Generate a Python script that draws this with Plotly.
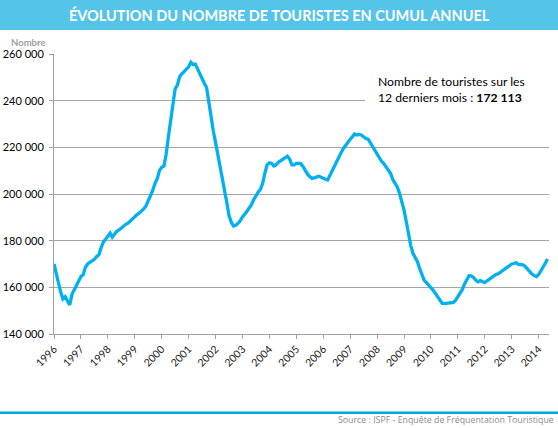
import pandas as pd
import plotly.graph_objects as go

# Monthly rolling 12-month tourist counts (thousands), Jan 1996 -> May 2014
tourists_k = [
    170.0, 166.5, 162.0, 158.0, 155.0, 156.0, 154.5, 152.5, 157.0, 159.0, 161.0, 163.0,   # 1996
    164.6, 165.5, 168.5, 170.0, 170.6, 171.3, 172.0, 173.1, 174.0, 177.0, 179.5, 180.6,   # 1997
    182.0, 183.2, 181.5, 182.8, 184.0, 184.6, 185.5, 186.2, 187.0, 187.5, 188.4, 189.5,   # 1998
    190.6, 191.2, 191.8, 192.5, 193.6, 194.8, 197.0, 199.0, 201.5, 204.5, 206.5, 210.0,   # 1999
    211.5, 212.0, 217.0, 224.5, 232.0, 240.0, 245.0, 246.7, 250.3, 251.5, 252.5, 253.1,   # 2000
    254.5, 256.4, 255.5, 255.7, 253.5, 252.0, 249.6, 247.5, 245.6, 239.0, 233.0, 227.0,   # 2001
    222.0, 217.0, 213.0, 208.0, 202.4, 196.5, 191.0, 188.0, 186.3, 186.6, 187.4, 188.5,   # 2002
    190.2, 191.3, 192.5, 194.0, 195.3, 197.5, 199.5, 200.8, 202.0, 204.5, 209.0, 212.5,   # 2003
    213.4, 213.1, 212.0, 212.5, 213.6, 214.3, 215.2, 215.7, 216.2, 215.0, 212.5, 212.5,   # 2004
    213.1, 213.1, 213.0, 211.8, 210.0, 208.5, 207.5, 206.7, 206.9, 207.1, 207.6, 207.2,   # 2005
    206.6, 206.3, 206.0, 208.0, 210.5, 212.5, 214.2, 216.0, 217.8, 219.5, 221.0, 222.5,   # 2006
    223.5, 224.6, 225.7, 225.3, 225.5, 225.3, 224.4, 223.8, 223.5, 222.0, 220.5, 219.0,   # 2007
    217.0, 215.3, 214.0, 213.0, 211.8, 210.0, 208.9, 206.2, 204.5, 203.0, 200.2, 197.0,   # 2008
    193.0, 188.0, 182.5, 178.0, 174.6, 172.5, 171.0, 168.0, 165.5, 163.0, 162.0, 161.0,   # 2009
    160.0, 158.7, 157.4, 156.0, 154.5, 153.2, 153.0, 153.1, 153.0, 153.2, 153.5, 154.5,   # 2010
    156.0, 157.5, 159.0, 161.5, 163.2, 165.0, 164.9, 164.2, 163.0, 162.4, 162.9, 162.5,   # 2011
    162.0, 162.8, 163.5, 164.3, 165.0, 165.5, 165.8, 166.5, 167.3, 168.1, 168.8, 169.3,   # 2012
    170.0, 170.2, 170.6, 169.8, 169.6, 169.6, 169.0, 167.8, 166.6, 165.7, 165.0, 164.6,   # 2013
    165.5, 167.0, 168.3, 170.3, 172.113,                                                  # 2014
]
start_month = "1996-01-01"
year_labels = [str(y) for y in range(1996, 2015)]
y_ticks = [140000, 160000, 180000, 200000, 220000, 240000, 260000]

months = pd.date_range(start_month, periods=len(tourists_k), freq="MS")
tourists = [v * 1000 for v in tourists_k]

W, H = 558, 428
ML, MR, MT, MB = 54, 9, 54, 94
PW, PH = W - ML - MR, H - MT - MB


def px_x(x):
    return (x - ML) / PW


def px_y(y):
    return 1 - (y - MT) / PH


FONT = "Lato"
BLUE = "#00B0F0"

fig = go.Figure()
fig.add_trace(go.Scatter(
    x=months, y=tourists, mode="lines",
    line=dict(color=BLUE, width=3.3),
    hoverinfo="skip", showlegend=False,
))

shapes = [
    # title banner
    dict(type="rect", xref="paper", yref="paper",
         x0=px_x(0), x1=px_x(W), y0=px_y(30), y1=px_y(0),
         fillcolor="#55C4E9", line=dict(width=0), layer="above"),
    # white box behind annotation
    dict(type="rect", xref="paper", yref="paper",
         x0=px_x(365), x1=px_x(549), y0=px_y(110), y1=px_y(66),
         fillcolor="white", line=dict(width=0), layer="above"),
    # bottom rule
    dict(type="line", xref="paper", yref="paper",
         x0=px_x(0), x1=px_x(W), y0=px_y(412.7), y1=px_y(412.7),
         line=dict(color="#00A8E1", width=2.5), layer="above"),
]

annotations = [
    dict(text="<b>ÉVOLUTION DU NOMBRE DE TOURISTES EN CUMUL ANNUEL</b>",
         xref="paper", yref="paper", x=px_x(279), y=px_y(15),
         xanchor="center", yanchor="middle", showarrow=False,
         font=dict(family=FONT, size=14.5, color="white")),
    dict(text="<b>Nombre</b>", xref="paper", yref="paper",
         x=px_x(28), y=px_y(43), xanchor="center", yanchor="middle",
         showarrow=False, font=dict(family=FONT, size=9.5, color="#A0A0A0")),
    dict(text="Nombre de touristes sur les<br>12 derniers mois : <b>172 113</b>",
         xref="paper", yref="paper", x=px_x(376), y=px_y(89),
         xanchor="left", yanchor="middle", align="left", showarrow=False,
         font=dict(family=FONT, size=12.2, color="black")),
    dict(text="Source : ISPF - Enquête de Fréquentation Touristique",
         xref="paper", yref="paper", x=px_x(556), y=px_y(419.5),
         xanchor="right", yanchor="middle", showarrow=False,
         font=dict(family="Open Sans", size=8.8, color="#8C8C8C")),
]

fig.update_layout(
    width=W, height=H,
    margin=dict(l=ML, r=MR, t=MT, b=MB, pad=0, autoexpand=False),
    paper_bgcolor="white", plot_bgcolor="white",
    separators=", ",
    shapes=shapes, annotations=annotations,
    font=dict(family=FONT, color="black"),
)

fig.update_xaxes(
    type="date",
    range=["1996-01-01", "2014-05-21"],
    tickvals=[f"{y}-01-01" for y in year_labels],
    ticktext=year_labels,
    tickangle=-45,
    ticks="outside", ticklen=4, tickcolor="#A0A0A0",
    showline=True, linecolor="#A0A0A0", linewidth=1,
    showgrid=False, zeroline=False, automargin=False,
    tickfont=dict(family=FONT, size=10.5, color="#222222"),
)
fig.update_yaxes(
    range=[140000, 260000],
    tickvals=y_ticks,
    tickformat=",d",
    ticks="outside", ticklen=4, tickcolor="#A0A0A0",
    showline=True, linecolor="#A0A0A0", linewidth=1,
    showgrid=True, gridcolor="#A6A6A6", gridwidth=1,
    zeroline=False, automargin=False,
    tickfont=dict(family=FONT, size=11, color="black"),
    ticklabelstandoff=3,
)

fig.write_html(
    "out.html",
    config={"displayModeBar": False, "staticPlot": True},
    post_script="document.body.style.margin='0';document.body.style.padding='0';",
)
